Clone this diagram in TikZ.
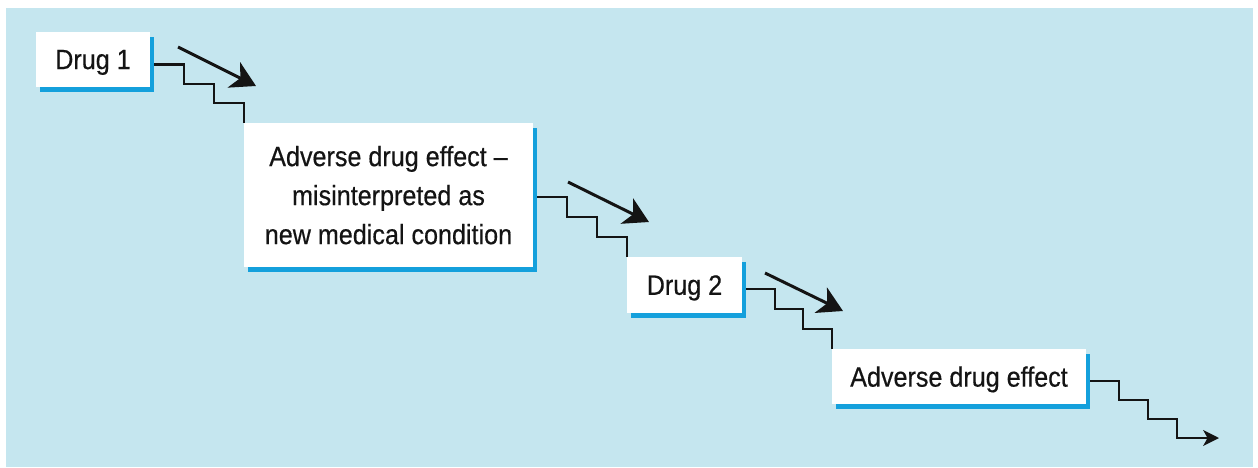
\documentclass[tikz,border=0pt]{standalone}
\usepackage{fontspec}
\setmainfont{Liberation Sans}[FakeStretch=0.9,FakeBold=0.5]
\usetikzlibrary{arrows.meta,calc,shadows}
\definecolor{bgblue}{RGB}{197,230,239}
\definecolor{shblue}{RGB}{20,160,220}
\definecolor{ink}{RGB}{20,20,20}
\tikzset{
  box/.style={fill=white, inner sep=0pt, align=center, text=ink, text depth=0pt,
    font=\fontsize{15.9}{22.2}\selectfont,
    drop shadow={shadow xshift=0.08cm, shadow yshift=-0.1cm, fill=shblue, opacity=1}},
  stair/.style={draw=ink, line width=1.15pt},
  stairarrow/.style={stair, -{Stealth[length=9pt,width=9pt,inset=2.5pt]}},
  diag/.style={draw=ink, line width=1.7pt, -{Stealth[length=14pt,width=16pt,inset=4pt]}}
}
\begin{document}
\begin{tikzpicture}[x=0.02cm,y=-0.02cm]
\useasboundingbox (0,0) rectangle (1258,467);
\fill[bgblue] (6,8) rectangle (1253,467);

\node[box, minimum width=2.28cm, minimum height=1.10cm] (d1) at (93,59.5) {Drug 1};
\node[box, minimum width=5.78cm, minimum height=2.88cm] (a1) at (388.5,195) {Adverse drug effect --\\misinterpreted as\\new medical condition};
\node[box, minimum width=2.30cm, minimum height=1.12cm] (d2) at (684.5,285) {Drug 2};
\node[box, minimum width=5.08cm, minimum height=1.10cm] (a2) at (959,376.5) {Adverse drug effect};

% staircases
\coordinate (s1) at ([shift={(4,5)}]d1.east);
\draw[stair] (s1) -| ($(s1)!1/3!(a1.north west)$) -| ($(s1)!2/3!(a1.north west)$) -| (a1.north west);
\coordinate (s2) at ([shift={(4,2)}]a1.east);
\draw[stair] (s2) -| ($(s2)!1/3!(d2.north west)$) -| ($(s2)!2/3!(d2.north west)$) -| (d2.north west);
\coordinate (s3) at ([shift={(4,4)}]d2.east);
\draw[stair] (s3) -| ($(s3)!1/3!(a2.north west)$) -| ($(s3)!2/3!(a2.north west)$) -| (a2.north west);
\coordinate (s4) at ([shift={(4,4.5)}]a2.east);
\coordinate (e4) at (1177,438);
\coordinate (t4) at (1219,438);
\draw[stairarrow] (s4) -| ($(s4)!1/3!(e4)$) -| ($(s4)!2/3!(e4)$) -| (e4) -- (t4);

% diagonal arrows
\coordinate (p1) at (178,47);  \coordinate (q1) at (256,86);
\coordinate (p2) at (568,182); \coordinate (q2) at (649,222);
\coordinate (p3) at (765,273); \coordinate (q3) at (843,311);
\draw[diag] (p1) -- (q1);
\draw[diag] (p2) -- (q2);
\draw[diag] (p3) -- (q3);
\end{tikzpicture}
\end{document}
